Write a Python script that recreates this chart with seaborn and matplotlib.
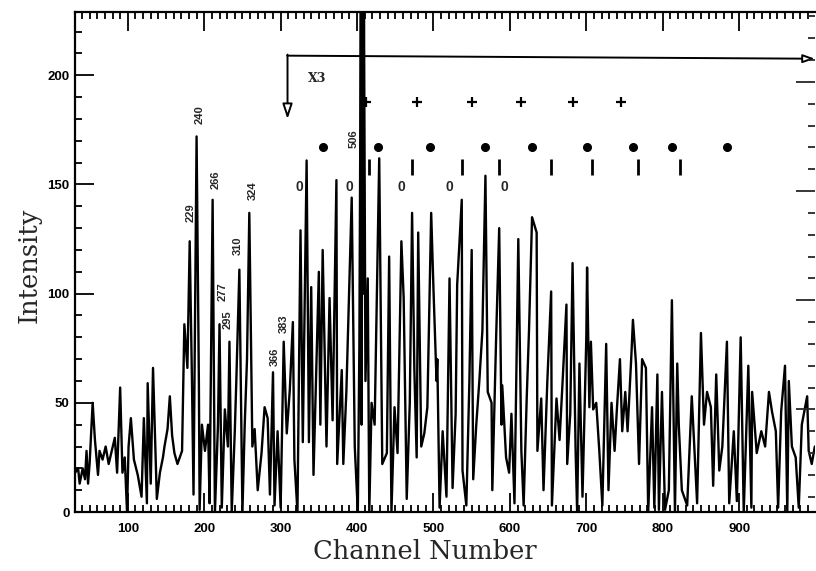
import numpy as np
import pandas as pd
import matplotlib
matplotlib.use("Agg")
import matplotlib.pyplot as plt
import seaborn as sns
from matplotlib.ticker import MultipleLocator, FixedLocator

# spectrum (channel, counts)
channel = [31, 35, 37, 41, 44, 46, 48, 50, 54, 57,
           61, 63, 67, 71, 75, 79, 83, 86, 90, 93,
           96, 99, 101, 104, 108, 113, 118, 121, 125, 126,
           130, 133, 138, 142, 146, 148, 152, 155, 158, 161,
           165, 171, 173, 174, 178, 181, 184, 186, 190, 193,
           194, 197, 201, 205, 207, 211, 214, 218, 220, 223,
           227, 231, 233, 236, 240, 242, 246, 250, 253, 256,
           259, 263, 266, 270, 275, 279, 283, 286, 290, 292,
           296, 300, 304, 308, 312, 316, 318, 322, 326, 329,
           334, 337, 340, 343, 347, 350, 352, 355, 360, 364,
           368, 373, 374, 380, 382, 386, 393, 397, 401, 403,
           405, 406, 407, 408, 409, 411, 414, 416, 419, 423,
           429, 432, 433, 439, 442, 445, 449, 453, 458, 461,
           465, 469, 472, 475, 478, 480, 484, 488, 492, 497,
           500, 504, 505, 508, 512, 517, 521, 525, 529, 531,
           537, 538, 543, 547, 550, 552, 556, 560, 564, 568,
           571, 576, 577, 582, 586, 589, 590, 595, 599, 602,
           606, 611, 615, 618, 622, 625, 629, 635, 636, 641,
           644, 649, 654, 655, 661, 665, 669, 674, 675, 679,
           682, 686, 688, 691, 695, 700, 701, 704, 706, 709,
           713, 717, 721, 726, 729, 733, 737, 740, 744, 747,
           751, 754, 759, 761, 765, 769, 773, 778, 781, 786,
           789, 793, 795, 799, 803, 808, 812, 816, 819, 821,
           825, 832, 838, 845, 850, 854, 858, 863, 866, 870,
           874, 878, 884, 887, 893, 897, 902, 906, 912, 916,
           917, 923, 929, 934, 939, 943, 948, 951, 955, 960,
           963, 965, 969, 974, 978, 982, 989, 991, 995, 999]
intensity = [18, 20, 13, 20, 15, 28, 13, 22, 50, 33,
             17, 28, 24, 30, 22, 28, 34, 18, 57, 18,
             25, 0, 30, 43, 24, 17, 7, 43, 4, 59,
             13, 66, 6, 18, 25, 30, 38, 53, 35, 27,
             22, 28, 65, 86, 66, 124, 59, 8, 172, 60,
             1, 40, 28, 40, 4, 143, 0, 40, 86, 2,
             47, 30, 78, 0, 37, 60, 111, 0, 40, 70,
             137, 30, 38, 10, 27, 48, 43, 8, 64, 3,
             37, 2, 78, 36, 56, 87, 24, 0, 129, 32,
             161, 32, 103, 17, 70, 110, 40, 120, 30, 98,
             42, 152, 22, 65, 22, 55, 144, 30, 0, 75,
             235, 40, 235, 100, 235, 60, 107, 0, 50, 40,
             162, 55, 22, 27, 117, 0, 48, 27, 124, 98,
             6, 50, 137, 65, 25, 128, 30, 36, 48, 137,
             102, 60, 70, 2, 37, 7, 107, 11, 45, 104,
             143, 19, 3, 60, 120, 15, 40, 60, 83, 154,
             55, 50, 10, 80, 130, 40, 58, 25, 18, 45,
             4, 125, 28, 3, 52, 83, 135, 128, 28, 52,
             10, 60, 101, 3, 52, 33, 60, 95, 22, 45,
             114, 28, 0, 68, 7, 80, 112, 48, 78, 47,
             50, 28, 3, 77, 10, 50, 28, 47, 70, 37,
             55, 37, 72, 88, 68, 22, 70, 66, 0, 48,
             2, 63, 1, 55, 1, 10, 97, 0, 68, 40,
             10, 3, 53, 4, 82, 40, 55, 48, 12, 63,
             19, 30, 78, 4, 37, 5, 80, 0, 67, 2,
             55, 27, 37, 30, 55, 46, 37, 2, 46, 67,
             0, 60, 30, 25, 2, 40, 53, 28, 22, 30]

# peak labels (text, channel, height of label centre)
peak_text = ['229', '240', '266', '277', '295', '310', '324', '366', '383', '506']
peak_x = [182, 194, 215, 224, 231, 244, 263, 292, 304, 395]
peak_y = [137, 182, 152, 101, 88, 122, 147, 71, 86, 171]

# series markers above the spectrum
plus_x = [412, 479, 551, 615, 682, 746]
dot_x = [355, 427, 496, 567, 629, 701, 761, 812, 884]
bar_x = [416, 472, 537, 586, 654, 708, 767, 823]
zero_x = [325, 390, 458, 521, 593]
plus_y, dot_y, bar_y, zero_y = 188, 167, 158, 149

sns.set_style("ticks")
plt.rcParams['font.family'] = ['Liberation Sans', 'DejaVu Sans']

fig = plt.figure(figsize=(8.16, 5.71), dpi=100)
ax = fig.add_axes([0.092, 0.1033, 0.907, 0.8757])

df = pd.DataFrame({'channel': channel, 'intensity': intensity})
sns.lineplot(data=df, x='channel', y='intensity', color='black', lw=1.7,
             estimator=None, sort=False, ax=ax)

ax.set_xlim(31, 999.5)
ax.set_ylim(0, 229)

# marker rows
ax.plot(plus_x, [plus_y] * len(plus_x), ls='none', marker='+', ms=7, mew=1.6, color='black')
ax.plot(dot_x, [dot_y] * len(dot_x), ls='none', marker='o', ms=5.5, color='black')
ax.plot(bar_x, [bar_y] * len(bar_x), ls='none', marker='|', ms=11, mew=2, color='black')
for zx in zero_x:
    ax.text(zx, zero_y, '0', ha='center', va='center', fontsize=10, fontweight='bold')

for t, px, py in zip(peak_text, peak_x, peak_y):
    ax.text(px, py, t, rotation=90, ha='center', va='center', fontsize=8, fontweight='bold')

# x3 scale change marker
ax.annotate('', xy=(309, 180), xytext=(309, 209.5),
            arrowprops=dict(arrowstyle='-|>,head_length=0.9,head_width=0.3', lw=1.4,
                            fc='white', ec='black', shrinkA=0, shrinkB=0))
ax.annotate('', xy=(999, 207.6), xytext=(308.5, 209),
            arrowprops=dict(arrowstyle='-|>,head_length=0.7,head_width=0.25', lw=1.4,
                            fc='white', ec='black', shrinkA=0, shrinkB=0),
            annotation_clip=False)
ax.text(348, 198.5, 'X3', ha='center', va='center', fontsize=9, fontweight='bold',
        family='DejaVu Serif')

ax.xaxis.set_major_locator(MultipleLocator(100))
ax.xaxis.set_minor_locator(MultipleLocator(10))
ax.yaxis.set_major_locator(MultipleLocator(50))
ax.yaxis.set_minor_locator(MultipleLocator(10))
ax.tick_params(which='both', direction='in', top=True, right=False, width=1.3, colors='black')
ax.tick_params(which='major', length=14)
ax.tick_params(which='minor', length=5)
ax.tick_params(axis='x', which='major', pad=8, labelsize=9.5)
ax.tick_params(axis='y', which='major', pad=4, labelsize=9.5)
for lab in ax.get_xticklabels() + ax.get_yticklabels():
    lab.set_fontweight('bold')
for side in ['left', 'bottom', 'top']:
    ax.spines[side].set_linewidth(1.6)
    ax.spines[side].set_color('black')
ax.spines['right'].set_visible(False)

# right-hand ticks (secondary scale, no labels)
ax2 = ax.twinx()
ax2.set_ylim(0, 229)
ax2.yaxis.set_major_locator(FixedLocator([47, 97, 147, 197]))
ax2.yaxis.set_minor_locator(FixedLocator(list(range(7, 229, 10))))
ax2.tick_params(which='both', direction='in', labelright=False, width=1.3)
ax2.tick_params(which='major', length=14)
ax2.tick_params(which='minor', length=5)
for s in ax2.spines.values():
    s.set_visible(False)

ax.set_xlabel('Channel Number', family='DejaVu Serif', fontsize=18.5)
ax.set_ylabel('Intensity', family='DejaVu Serif', fontsize=18.5)
ax.xaxis.set_label_coords(0.472, -0.054)
ax.yaxis.set_label_coords(-0.045, 0.494)

fig.savefig('out.png', dpi=100)
